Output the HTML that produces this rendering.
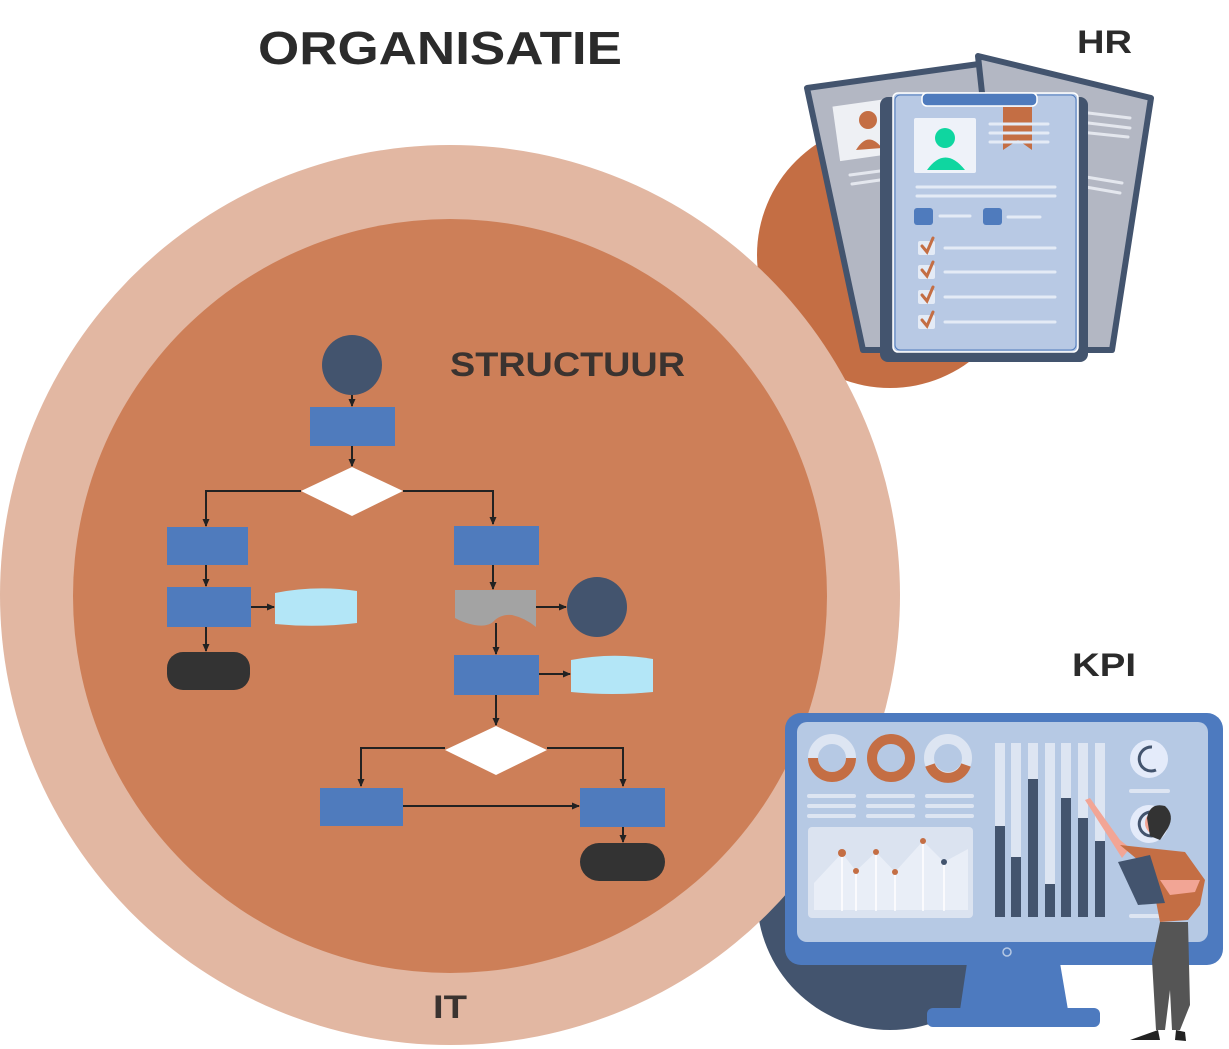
<!DOCTYPE html>
<html><head><meta charset="utf-8"><style>
html,body{margin:0;padding:0;background:#fff;}
svg{display:block;}
text{font-family:"Liberation Sans",sans-serif;font-weight:bold;}
</style></head><body>
<svg width="1229" height="1049" viewBox="0 0 1229 1049" xmlns="http://www.w3.org/2000/svg">
<defs>
<marker id="ar" markerWidth="8" markerHeight="8" refX="7" refY="4" orient="auto" markerUnits="userSpaceOnUse">
<path d="M0,0.5 L8,4 L0,7.5 Z" fill="#222"/></marker>
</defs>
<circle cx="890" cy="255" r="133" fill="#c46e44"/>
<circle cx="890" cy="897" r="133" fill="#43546e"/>
<circle cx="450" cy="595" r="450" fill="#e2b7a2"/>
<circle cx="450" cy="596" r="377" fill="#cd7f58"/>

<text x="440" y="64" font-size="46" fill="#2b2b2b" text-anchor="middle" textLength="364" lengthAdjust="spacingAndGlyphs">ORGANISATIE</text>
<text x="450" y="376" font-size="34" fill="#3a3330" textLength="235" lengthAdjust="spacingAndGlyphs">STRUCTUUR</text>
<text x="1077" y="53" font-size="32" fill="#2b2b2b" textLength="55" lengthAdjust="spacingAndGlyphs">HR</text>
<text x="1072" y="676" font-size="32" fill="#2b2b2b" textLength="64" lengthAdjust="spacingAndGlyphs">KPI</text>
<text x="433" y="1018" font-size="32" fill="#3a3330" textLength="34" lengthAdjust="spacingAndGlyphs">IT</text>

<g stroke="#222" stroke-width="2" fill="none">
<line x1="352" y1="395" x2="352" y2="406" marker-end="url(#ar)"/>
<line x1="352" y1="446" x2="352" y2="466" marker-end="url(#ar)"/>
<polyline points="301,491 206,491 206,526" marker-end="url(#ar)"/>
<polyline points="403,491 493,491 493,524" marker-end="url(#ar)"/>
<line x1="206" y1="565" x2="206" y2="586" marker-end="url(#ar)"/>
<line x1="251" y1="607" x2="274" y2="607" marker-end="url(#ar)"/>
<line x1="206" y1="627" x2="206" y2="651" marker-end="url(#ar)"/>
<line x1="493" y1="565" x2="493" y2="589" marker-end="url(#ar)"/>
<line x1="536" y1="607" x2="566" y2="607" marker-end="url(#ar)"/>
<line x1="496" y1="623" x2="496" y2="654" marker-end="url(#ar)"/>
<line x1="539" y1="674" x2="570" y2="674" marker-end="url(#ar)"/>
<line x1="496" y1="695" x2="496" y2="725" marker-end="url(#ar)"/>
<polyline points="445,748 361,748 361,786" marker-end="url(#ar)"/>
<polyline points="547,748 623,748 623,786" marker-end="url(#ar)"/>
<line x1="403" y1="806" x2="579" y2="806" marker-end="url(#ar)"/>
<line x1="623" y1="827" x2="623" y2="842" marker-end="url(#ar)"/>
</g>
<circle cx="352" cy="365" r="30" fill="#43546e"/>
<rect x="310" y="407" width="85" height="39" fill="#4f7bbd"/>
<polygon points="301,491 352,467 403,491 352,516" fill="#fff"/>
<rect x="167" y="527" width="81" height="38" fill="#4f7bbd"/>
<rect x="167" y="587" width="84" height="40" fill="#4f7bbd"/>
<path d="M275,593 Q316,585 357,591 L357,623 Q316,628 275,624 Z" fill="#b3e6f7"/>
<rect x="167" y="652" width="83" height="38" rx="16" fill="#333"/>
<rect x="454" y="526" width="85" height="39" fill="#4f7bbd"/>
<path d="M455,590 L536,590 L536,627 Q525,618 512,615 Q500,614 493,622 Q486,628 470,624 Q462,622 455,618 Z" fill="#a3a3a3"/>
<circle cx="597" cy="607" r="30" fill="#43546e"/>
<rect x="454" y="655" width="85" height="40" fill="#4f7bbd"/>
<path d="M571,660 Q612,652 653,659 L653,692 Q612,696 571,692 Z" fill="#b3e6f7"/>
<polygon points="445,750 496,726 547,750 496,775" fill="#fff"/>
<rect x="320" y="788" width="83" height="38" fill="#4f7bbd"/>
<rect x="580" y="788" width="85" height="39" fill="#4f7bbd"/>
<rect x="580" y="843" width="85" height="38" rx="19" fill="#333"/>

<polygon points="807,88 986,63 1010,350 863,350" fill="#b3b7c3" stroke="#43546e" stroke-width="6" stroke-linejoin="round"/>
<polygon points="978,56 1151,98 1112,350 1010,350" fill="#b3b7c3" stroke="#43546e" stroke-width="6" stroke-linejoin="round"/>
<rect x="836" y="103" width="50" height="55" fill="#eef0f4" transform="rotate(-8 860 130)"/>
<circle cx="868" cy="120" r="9" fill="#c46e44"/>
<path d="M856,150 Q868,130 882,148 Z" fill="#c46e44"/>
<g stroke="#e4e7ee" stroke-width="3" stroke-linecap="round">
<line x1="1080" y1="112" x2="1130" y2="118"/><line x1="1080" y1="122" x2="1130" y2="128"/><line x1="1080" y1="132" x2="1128" y2="137"/>
<line x1="1080" y1="176" x2="1122" y2="183"/><line x1="1080" y1="186" x2="1120" y2="193"/>
<line x1="850" y1="175" x2="880" y2="171"/><line x1="852" y1="184" x2="880" y2="180"/>
</g>
<rect x="880" y="97" width="208" height="265" rx="8" fill="#43546e"/>
<rect x="893" y="93" width="185" height="259" rx="5" fill="#b8c9e4" stroke="#fff" stroke-width="1.5"/>
<rect x="895" y="95" width="181" height="255" rx="5" fill="none" stroke="#4f7bbd" stroke-width="1"/>
<rect x="922" y="93" width="115" height="13" rx="5" fill="#4f7bbd" stroke="#fff" stroke-width="1.5"/>
<rect x="914" y="118" width="62" height="55" rx="2" fill="#eef2f9"/>
<circle cx="945" cy="138" r="10" fill="#0fd6a0"/>
<path d="M927,170 Q945,145 965,170 Z" fill="#0fd6a0"/>
<polygon points="1003,107 1032,107 1032,150 1018,140 1003,150" fill="#c46e44"/>
<g stroke="#e4ebf6" stroke-width="3" stroke-linecap="round">
<line x1="990" y1="124" x2="1048" y2="124"/><line x1="990" y1="133" x2="1048" y2="133"/><line x1="990" y1="142" x2="1048" y2="142"/>
<line x1="917" y1="187" x2="1055" y2="187"/><line x1="917" y1="196" x2="1055" y2="196"/>
<line x1="940" y1="216" x2="970" y2="216"/><line x1="1008" y1="217" x2="1040" y2="217"/>
<line x1="945" y1="248" x2="1055" y2="248"/><line x1="945" y1="272" x2="1055" y2="272"/><line x1="945" y1="297" x2="1055" y2="297"/><line x1="945" y1="322" x2="1055" y2="322"/>
</g>
<rect x="914" y="208" width="19" height="17" rx="3" fill="#4f7bbd"/>
<rect x="983" y="208" width="19" height="17" rx="3" fill="#4f7bbd"/>
<g>
<rect x="918" y="241" width="17" height="14" rx="2" fill="#e4ebf6"/><rect x="918" y="265" width="17" height="14" rx="2" fill="#e4ebf6"/>
<rect x="918" y="290" width="17" height="14" rx="2" fill="#e4ebf6"/><rect x="918" y="315" width="17" height="14" rx="2" fill="#e4ebf6"/>
</g>
<g stroke="#c46e44" stroke-width="3" fill="none" stroke-linecap="round">
<polyline points="922,246 927,252 933,238"/><polyline points="922,270 927,276 933,262"/><polyline points="922,295 927,301 933,287"/><polyline points="922,320 927,326 933,312"/>
</g>

<rect x="785" y="713" width="438" height="252" rx="16" fill="#4d7abf"/>
<rect x="797" y="722" width="411" height="220" rx="10" fill="#b6c9e4"/>
<circle cx="1007" cy="952" r="4" fill="none" stroke="#b6c9e4" stroke-width="1.5"/>
<polygon points="967,963 1060,963 1068,1010 960,1010" fill="#4d7abf"/>
<rect x="927" y="1008" width="173" height="19" rx="6" fill="#4d7abf"/>
<g fill="none" stroke-width="10">
<circle cx="832" cy="758" r="19" stroke="#dde5f2"/><circle cx="891" cy="758" r="19" stroke="#c46e44"/><circle cx="948" cy="758" r="19" stroke="#dde5f2"/>
<path d="M813,758 A19,19 0 0,0 851,758" stroke="#c46e44"/>
<path d="M930,765 A19,19 0 0,0 966,765" stroke="#c46e44"/>
</g>
<g stroke="#dde5f2" stroke-width="4" stroke-linecap="round">
<line x1="809" y1="796" x2="854" y2="796"/><line x1="809" y1="806" x2="854" y2="806"/><line x1="809" y1="816" x2="854" y2="816"/>
<line x1="868" y1="796" x2="913" y2="796"/><line x1="868" y1="806" x2="913" y2="806"/><line x1="868" y1="816" x2="913" y2="816"/>
<line x1="927" y1="796" x2="972" y2="796"/><line x1="927" y1="806" x2="972" y2="806"/><line x1="927" y1="816" x2="972" y2="816"/>
<line x1="1131" y1="791" x2="1168" y2="791"/><line x1="1131" y1="916" x2="1160" y2="916"/>
</g>
<rect x="808" y="827" width="165" height="91" rx="4" fill="#dbe3f0"/>
<polygon points="814,883 842,853 856,871 876,852 895,872 923,841 944,862 968,849 968,910 814,910" fill="#e9eef7"/>
<g stroke="#fff" stroke-width="1.5"><line x1="842" y1="853" x2="842" y2="911"/><line x1="856" y1="871" x2="856" y2="911"/><line x1="876" y1="852" x2="876" y2="911"/><line x1="895" y1="872" x2="895" y2="911"/><line x1="923" y1="841" x2="923" y2="911"/><line x1="944" y1="862" x2="944" y2="911"/></g>
<circle cx="842" cy="853" r="4" fill="#c46e44"/><circle cx="856" cy="871" r="3" fill="#c46e44"/><circle cx="876" cy="852" r="3" fill="#c46e44"/><circle cx="895" cy="872" r="3" fill="#c46e44"/><circle cx="923" cy="841" r="3" fill="#c46e44"/><circle cx="944" cy="862" r="3" fill="#43546e"/>
<g fill="#dde5f2"><rect x="995" y="743" width="10" height="174"/><rect x="1011" y="743" width="10" height="174"/><rect x="1028" y="743" width="10" height="174"/><rect x="1045" y="743" width="10" height="174"/><rect x="1061" y="743" width="10" height="174"/><rect x="1078" y="743" width="10" height="174"/><rect x="1095" y="743" width="10" height="174"/></g>
<g fill="#43546e"><rect x="995" y="826" width="10" height="91"/><rect x="1011" y="857" width="10" height="60"/><rect x="1028" y="779" width="10" height="138"/><rect x="1045" y="884" width="10" height="33"/><rect x="1061" y="798" width="10" height="119"/><rect x="1078" y="818" width="10" height="99"/><rect x="1095" y="841" width="10" height="76"/></g>
<circle cx="1149" cy="759" r="19" fill="#e4ebfa"/>
<path d="M1152,747 A12,12 0 1,0 1156,770" fill="none" stroke="#43546e" stroke-width="3"/>
<circle cx="1149" cy="824" r="19" fill="#e4ebfa"/>
<path d="M1152,812 A12,12 0 1,0 1156,835" fill="none" stroke="#43546e" stroke-width="3"/>
<path d="M1085,800 L1090,798 L1120,840 L1130,848 L1122,858 Z" fill="#f2a595"/>
<path d="M1120,845 L1185,852 L1205,880 L1200,905 L1188,920 L1160,922 L1150,870 Z" fill="#c46e44"/>
<polygon points="1118,862 1150,855 1165,903 1138,905" fill="#43546e"/>
<path d="M1160,922 L1188,922 L1190,1005 L1180,1030 L1172,1030 L1170,990 L1165,1030 L1156,1030 L1152,960 Z" fill="#555"/>
<path d="M1130,1040 L1158,1030 L1160,1040 Z" fill="#222"/><path d="M1175,1040 L1176,1030 L1185,1032 L1186,1041 Z" fill="#222"/>
<circle cx="1157" cy="823" r="12" fill="#f2a595"/>
<path d="M1147,818 Q1150,802 1165,806 Q1175,815 1168,828 L1160,840 L1150,836 Z" fill="#333"/>
<path d="M1160,880 L1170,895 L1195,892 L1200,880 Z" fill="#f2a595"/>
</svg>
</body></html>
